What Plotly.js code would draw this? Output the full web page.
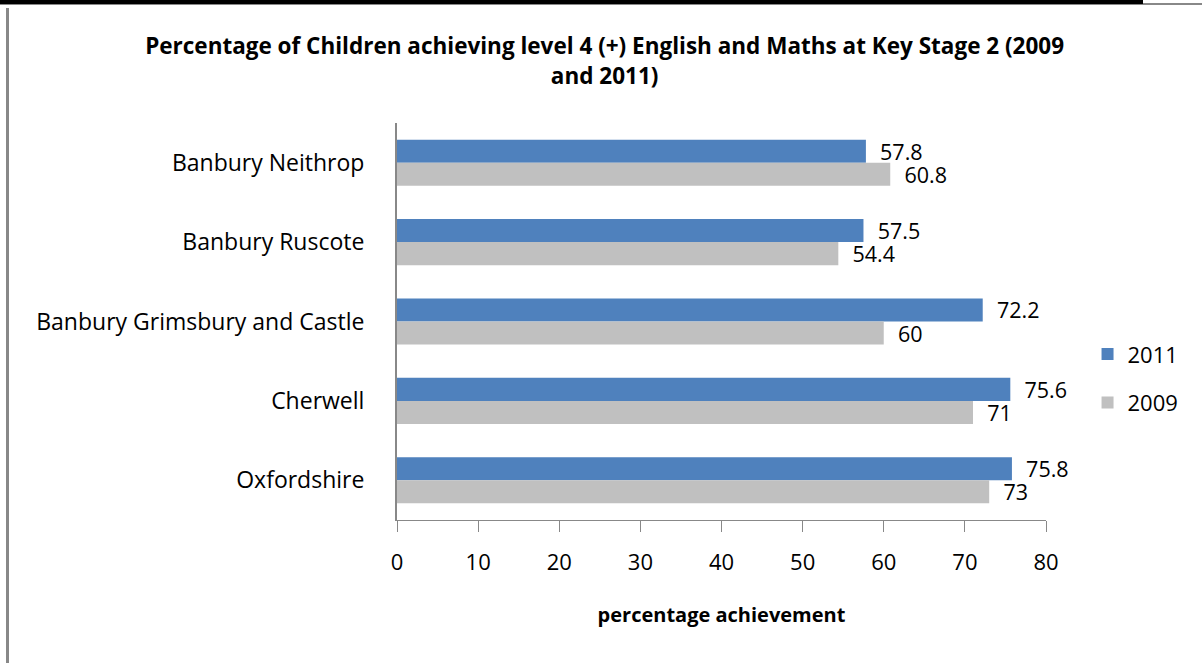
<!DOCTYPE html>
<html><head><meta charset="utf-8">
<script src="https://cdn.plot.ly/plotly-3.0.1.min.js"></script>
<style>
html,body{margin:0;padding:0;background:#fff;}
#chart{width:1202px;height:663px;position:relative;}
.ln{position:absolute;}
</style></head>
<body>
<div id="chart"></div>
<div class="ln" style="left:0;top:3px;width:1202px;height:2px;background:#888;"></div>
<div class="ln" style="left:0;top:0;width:1143px;height:4px;background:#000;"></div>
<div class="ln" style="left:6px;top:8px;width:3px;height:655px;background:#888;"></div>
<script>
const categories = ["Banbury Neithrop","Banbury Ruscote","Banbury Grimsbury and Castle","Cherwell","Oxfordshire"];
const values2011 = [57.8, 57.5, 72.2, 75.6, 75.8];
const values2009 = [60.8, 54.4, 60, 71, 73];
const xTicks = [0,10,20,30,40,50,60,70,80];

const font = "'Open Sans', sans-serif";
const mk = (name, vals, color, grp) => ({
  type:'bar', orientation:'h', name:name, y:categories, x:vals,
  marker:{color:color}, legendgroup:grp,
  text: vals.map(v=>String(v)), texttemplate:'  %{text}', textposition:'outside', constraintext:'none',
  textfont:{family:font, size:21.5, color:'#000'}, cliponaxis:false, hoverinfo:'skip'
});
const data = [mk('2011', values2011, '#4F81BD','a'), mk('2009', values2009, '#C0C0C0','b')];
const layout = {
  width:1202, height:663,
  margin:{l:397, r:156, t:123, b:143, pad:0},
  paper_bgcolor:'#fff', plot_bgcolor:'#fff',
  barmode:'group', bargap:0.42, bargroupgap:0,
  font:{family:font, size:22, color:'#000'},
  title:{text:'<b>Percentage of Children achieving level 4 (+) English and Maths at Key Stage 2 (2009<br>and 2011)</b>',
    font:{family:font, size:22.5, color:'#000'}, x:0.503, xanchor:'center', yref:'container', y:0.918, yanchor:'top'},
  xaxis:{range:[0,80], tickvals:xTicks, ticktext:xTicks.map(String), ticks:'outside', ticklen:11, tickcolor:'#888', tickwidth:1,
    showline:true, linecolor:'#888', linewidth:1, showgrid:false, zeroline:false,
    tickfont:{family:font, size:22}, ticklabelstandoff:12,
    title:{text:'<b>percentage achievement</b>', font:{family:font, size:20}, standoff:32}},
  yaxis:{autorange:'reversed', type:'category', showline:true, linecolor:'#888', linewidth:2, ticks:'', showgrid:false,
    tickfont:{family:font, size:23}, ticklabelstandoff:26},
  legend:{x:1.064, xanchor:'left', y:0.356, yanchor:'middle', font:{family:font, size:22}, tracegroupgap:17, traceorder:'grouped', bgcolor:'rgba(0,0,0,0)'},
  showlegend:true
};
Plotly.newPlot('chart', data, layout, {staticPlot:true, displayModeBar:false});
</script>
</body></html>
